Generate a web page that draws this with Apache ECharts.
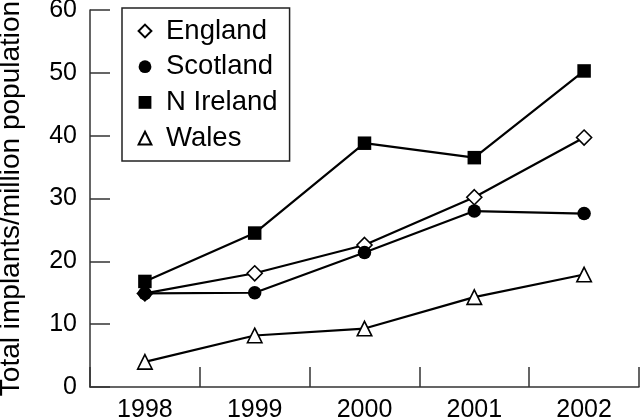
<!DOCTYPE html>
<html>
<head>
<meta charset="utf-8">
<script src="https://cdn.jsdelivr.net/npm/echarts@6/dist/echarts.min.js"></script>
<style>html,body{margin:0;padding:0;background:#fff}#c{width:640px;height:417px}</style>
</head>
<body>
<div id="c"></div>
<script>
var years = ['1998', '1999', '2000', '2001', '2002'];
var england = [14.9, 18.1, 22.6, 30.2, 39.7];
var scotland = [14.9, 15.0, 21.4, 28.0, 27.6];
var nireland = [16.8, 24.5, 38.8, 36.5, 50.3];
var wales = [4.0, 8.2, 9.3, 14.3, 17.9];
var yTicks = {min: 0, max: 60, interval: 10};
var yName = 'Total implants/million population';

var FONT = '"Liberation Sans", Arial, Helvetica, sans-serif';
var chart = echarts.init(document.getElementById('c'), null, {renderer: 'canvas'});

function ser(name, data, symbol, size, fill) {
  return {
    name: name, type: 'line', data: data,
    symbol: symbol, symbolSize: size,
    lineStyle: {color: '#000', width: 2.2},
    itemStyle: {color: fill, borderColor: '#000', borderWidth: fill === '#fff' ? 1.6 : 0},
    emphasis: {disabled: true}
  };
}

chart.setOption({
  animation: false,
  backgroundColor: '#fff',
  grid: {left: 90, right: 1, top: 10, bottom: 30, containLabel: false, outerBoundsMode: 'none'},
  legend: {
    orient: 'vertical', left: 122, top: 8,
    padding: [9, 12, 9, 6],
    itemWidth: 32, itemHeight: 16, itemGap: 7.7,
    borderColor: '#222', borderWidth: 1.5,
    lineStyle: {opacity: 0},
    textStyle: {fontFamily: FONT, fontSize: 27.5, color: '#000', lineHeight: 28},
    data: ['England', 'Scotland', 'N Ireland', 'Wales']
  },
  xAxis: {
    type: 'category', data: years, boundaryGap: true,
    axisLine: {show: true, lineStyle: {color: '#333', width: 1.5}},
    axisTick: {show: true, inside: true, length: 20, lineStyle: {color: '#333', width: 1.5}},
    axisLabel: {fontFamily: FONT, fontSize: 25, color: '#000', margin: 11},
    splitLine: {show: false}
  },
  yAxis: {
    type: 'value', min: yTicks.min, max: yTicks.max, interval: yTicks.interval,
    name: yName, nameLocation: 'middle', nameGap: 65, nameRotate: 90,
    nameTextStyle: {fontFamily: FONT, fontSize: 28, color: '#000'},
    axisLine: {show: true, lineStyle: {color: '#333', width: 1.5}},
    axisTick: {show: true, inside: true, length: 20, lineStyle: {color: '#333', width: 1.5}},
    axisLabel: {fontFamily: FONT, fontSize: 25, color: '#000', margin: 13},
    splitLine: {show: false}
  },
  series: [
    ser('England', england, 'diamond', 15, '#fff'),
    ser('Scotland', scotland, 'circle', 13.5, '#000'),
    ser('N Ireland', nireland, 'rect', 13.5, '#000'),
    ser('Wales', wales, 'triangle', 14.5, '#fff')
  ]
});
</script>
</body>
</html>
